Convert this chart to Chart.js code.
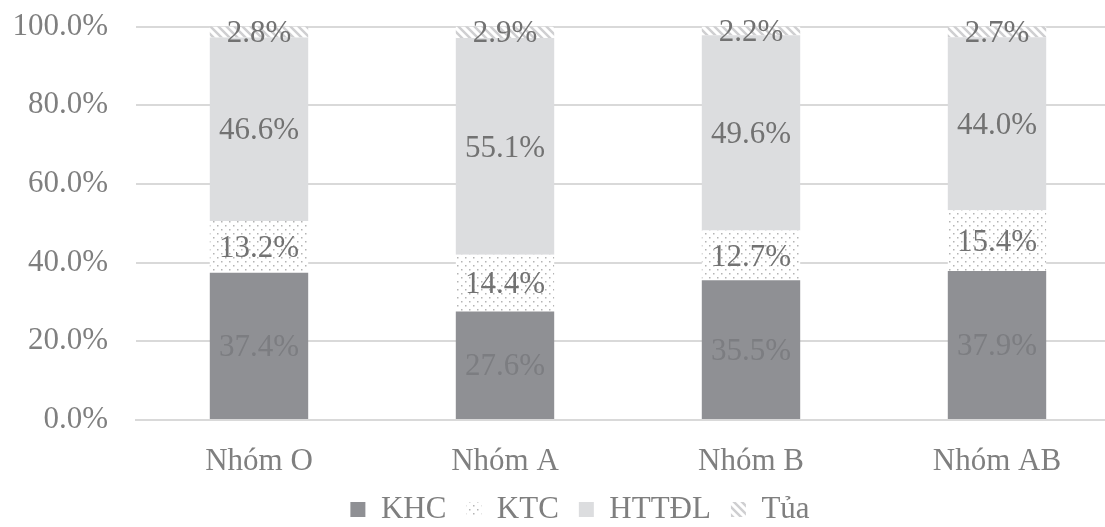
<!DOCTYPE html>
<html>
<head>
<meta charset="utf-8">
<script src="https://cdn.jsdelivr.net/npm/chart.js@4.4.0/dist/chart.umd.min.js"></script>
<style>
    html, body { margin: 0; padding: 0; background: #ffffff; overflow: hidden; }
    #wrap { width: 1105px; height: 527px; overflow: hidden; }
</style>
</head>
<body>
<div id="wrap"><canvas id="chart" width="1160" height="527"></canvas></div>
<script>
// Chart data
const categories = ['Nhóm O', 'Nhóm A', 'Nhóm B', 'Nhóm AB'];
const seriesNames = ['KHC', 'KTC', 'HTTĐL', 'Tủa'];
const khc = [37.4, 27.6, 35.5, 37.9];
const ktc = [13.2, 14.4, 12.7, 15.4];
const httdl = [46.6, 55.1, 49.6, 44.0];
const tua = [2.8, 2.9, 2.2, 2.7];
const yTicks = [0, 20, 40, 60, 80, 100];

const FONT = "'Liberation Serif', 'Times New Roman', serif";
const TEXT_GRAY = '#7f7f7f';

// Dotted fill for KTC
function dotPattern() {
    const c = document.createElement('canvas');
    c.width = 8;
    c.height = 8;
    const g = c.getContext('2d');
    g.fillStyle = '#ffffff';
    g.fillRect(0, 0, 8, 8);
    g.fillStyle = '#b4b4b4';
    g.fillRect(1, 1, 1.5, 1.5);
    g.fillRect(5, 5, 1.5, 1.5);
    return g.createPattern(c, 'repeat');
}

// Diagonal stripes for Tủa
function stripePattern() {
    const c = document.createElement('canvas');
    c.width = 8;
    c.height = 8;
    const g = c.getContext('2d');
    g.fillStyle = '#ffffff';
    g.fillRect(0, 0, 8, 8);
    g.strokeStyle = '#cfcfd1';
    g.lineWidth = 2.5;
    g.beginPath();
    g.moveTo(-2, -2); g.lineTo(10, 10);
    g.moveTo(-2, 6); g.lineTo(2, 10);
    g.moveTo(6, -2); g.lineTo(10, 2);
    g.stroke();
    return g.createPattern(c, 'repeat');
}

// Value labels in the middle of each segment
const segmentLabels = {
    id: 'segmentLabels',
    afterDatasetsDraw(chart) {
        const ctx = chart.ctx;
        ctx.save();
        ctx.font = '31px ' + FONT;
        ctx.textAlign = 'center';
        ctx.textBaseline = 'middle';
        chart.data.datasets.forEach((ds, i) => {
            const meta = chart.getDatasetMeta(i);
            meta.data.forEach((bar, j) => {
                const p = bar.getProps(['x', 'y', 'base'], true);
                ctx.fillStyle = ds.labelColor;
                ctx.fillText(ds.data[j].toFixed(1) + '%', p.x, (p.y + p.base) / 2 + 2);
            });
        });
        ctx.restore();
    }
};

// Nudge the legend a little to the right
const legendShift = {
    id: 'legendShift',
    afterLayout(chart) {
        if (chart.legend) {
            chart.legend.left += 14;
            chart.legend.right += 14;
        }
    }
};

const ctx = document.getElementById('chart').getContext('2d');

new Chart(ctx, {
    type: 'bar',
    data: {
        labels: categories,
        datasets: [
            { label: seriesNames[0], data: khc, backgroundColor: '#8f9094', labelColor: '#7c7d81' },
            { label: seriesNames[1], data: ktc, backgroundColor: dotPattern(), labelColor: '#727272' },
            { label: seriesNames[2], data: httdl, backgroundColor: '#dcdddf', labelColor: '#727272' },
            { label: seriesNames[3], data: tua, backgroundColor: stripePattern(), labelColor: '#727272' }
        ]
    },
    options: {
        responsive: false,
        animation: false,
        layout: { padding: { left: 12, right: 40, top: 0, bottom: -8 } },
        datasets: {
            bar: { categoryPercentage: 1.0, barPercentage: 0.4, borderWidth: 0 }
        },
        scales: {
            x: {
                stacked: true,
                grid: { display: false, drawTicks: false },
                border: { display: true, color: '#d9d9d9', width: 2 },
                ticks: { color: TEXT_GRAY, padding: 23, font: { family: FONT, size: 31 } },
                afterFit: axis => { axis.height = 54; }
            },
            y: {
                stacked: true,
                min: 0,
                max: 100,
                afterBuildTicks: axis => { axis.ticks = yTicks.map(v => ({ value: v })); },
                afterFit: axis => { axis.width = 124; },
                grid: { color: '#d9d9d9', lineWidth: 2, drawTicks: true, tickLength: 20, tickColor: 'rgba(0,0,0,0)' },
                border: { display: false },
                ticks: {
                    color: TEXT_GRAY,
                    padding: 8,
                    font: { family: FONT, size: 31 },
                    callback: v => v.toFixed(1) + '%'
                }
            }
        },
        plugins: {
            legend: {
                position: 'bottom',
                labels: {
                    color: TEXT_GRAY,
                    font: { family: FONT, size: 31 },
                    boxWidth: 15,
                    boxHeight: 15,
                    padding: 20
                }
            },
            tooltip: { enabled: false }
        }
    },
    plugins: [segmentLabels, legendShift]
});
</script>
</body>
</html>
